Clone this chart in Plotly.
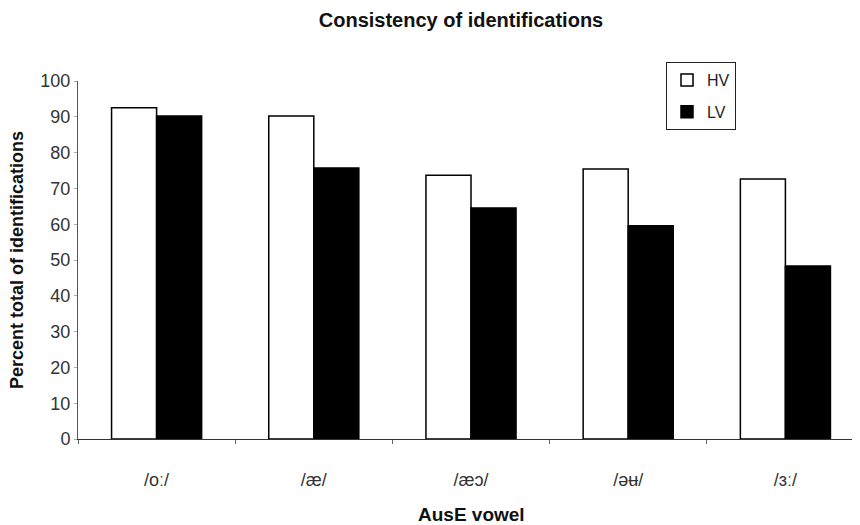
import plotly.graph_objects as go

vowels = ["/oː/", "/æ/", "/æɔ/", "/əʉ/", "/ɜː/"]
hv = [92.5, 90.2, 73.7, 75.4, 72.6]
lv = [90.2, 75.7, 64.5, 59.6, 48.3]
y_ticks = [0, 10, 20, 30, 40, 50, 60, 70, 80, 90, 100]

font_family = "Liberation Sans, Arial, sans-serif"

# page body has an 8px margin; figure coordinates are screen minus 8
W, H = 860, 525
L, R, T, B = 70, 4, 73, 94
plot_w, plot_h = W - L - R, H - T - B

fig = go.Figure()
fig.add_trace(go.Bar(name="HV", x=vowels, y=hv, legendgroup="a",
                     marker=dict(color="white", line=dict(color="black", width=1.5))))
fig.add_trace(go.Bar(name="LV", x=vowels, y=lv, legendgroup="b",
                     marker=dict(color="black", line=dict(color="black", width=1.5))))

fig.update_layout(
    width=W, height=H,
    paper_bgcolor="white", plot_bgcolor="white",
    margin=dict(l=L, r=R, t=T, b=B, autoexpand=False),
    barmode="group", bargap=0.427, bargroupgap=0,
    font=dict(family=font_family, color="#222"),
    title=dict(text="<b>Consistency of identifications</b>", x=453/W, xanchor="center",
               xref="container", y=1 - 12/H, yanchor="middle", font=dict(size=20, color="#111")),
    legend=dict(x=(658 - L)/plot_w, y=1 + (T - 54)/plot_h, xanchor="left", yanchor="top",
                bordercolor="#222", borderwidth=1, bgcolor="white",
                font=dict(size=16), tracegroupgap=8, traceorder="grouped", itemwidth=30),
    showlegend=True,
    annotations=[
        dict(text="<b>Percent total of identifications</b>", xref="paper", yref="paper",
             x=(9 - L)/plot_w, y=0.5, xanchor="center", yanchor="middle", textangle=-90,
             showarrow=False, font=dict(size=18, color="#111")),
        dict(text="<b>AusE vowel</b>", xref="paper", yref="paper",
             x=0.5, y=-(506 - (T + plot_h))/plot_h, xanchor="center", yanchor="middle",
             showarrow=False, font=dict(size=19, color="#111")),
    ],
)
fig.update_xaxes(
    range=[-0.5, 4.5], showline=True, linecolor="#333", linewidth=1,
    ticks="outside", tickson="boundaries", ticklen=4, tickcolor="#666",
    tickfont=dict(size=18, color="#333"), ticklabelstandoff=24, automargin=False,
    showgrid=False,
)
fig.update_yaxes(
    range=[0, 100], tickvals=y_ticks, showline=True, linecolor="#555", linewidth=1,
    ticks="outside", ticklen=3, tickcolor="#aaa", automargin=False,
    tickfont=dict(size=18, color="#333"), showgrid=False, zeroline=False,
)

fig.write_html("out.html")
